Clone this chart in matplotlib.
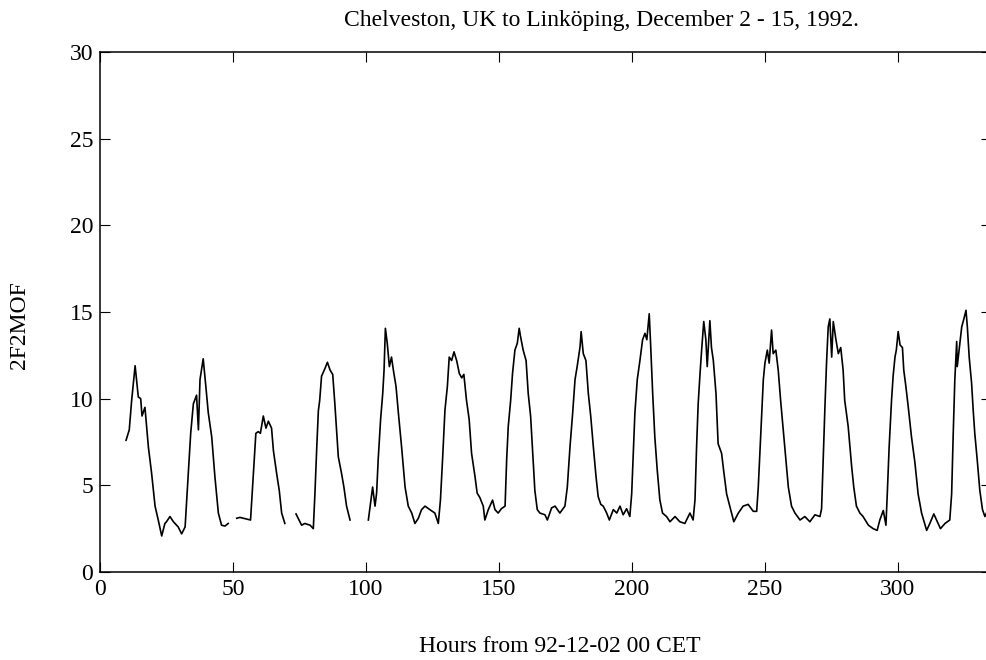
import matplotlib
matplotlib.use("Agg")
import matplotlib.pyplot as plt

# Segment 1
h1 = [9.8, 11.0, 11.9, 13.2, 14.4, 15.3, 15.8, 16.9, 18.2, 19.4, 20.7, 21.9, 23.2, 24.4, 25.0,
      26.3, 27.6, 29.4, 30.7, 32.0, 33.2, 34.1, 35.1, 36.3, 37.0, 37.6, 38.8, 39.8, 40.7, 42.0,
      43.2, 44.5, 45.7, 47.0, 48.2]
v1 = [7.6, 8.2, 9.9, 11.9, 10.1, 10.0, 9.0, 9.5, 7.2, 5.7, 3.8, 3.0, 2.08, 2.8, 2.9,
      3.2, 2.9, 2.6, 2.2, 2.6, 5.7, 8.0, 9.7, 10.2, 8.2, 11.1, 12.3, 10.7, 9.2, 7.8,
      5.5, 3.4, 2.7, 2.65, 2.8]

# Segment 2
h2 = [51.4, 52.6, 56.6, 57.6, 58.6, 59.5, 60.3, 61.4, 62.4, 63.3, 64.5, 65.2, 66.4, 67.4, 68.3, 69.5]
v2 = [3.1, 3.15, 3.0, 5.5, 8.0, 8.1, 8.0, 9.0, 8.3, 8.7, 8.3, 7.0, 5.7, 4.7, 3.4, 2.8]

# Segment 3
h3 = [73.7, 75.8, 77.0, 79.0, 80.2, 80.8, 81.5, 82.1, 82.6, 83.3, 84.6, 85.5, 86.5, 87.5, 88.3,
      89.6, 90.8, 91.7, 92.7, 94.0]
v3 = [3.35, 2.7, 2.8, 2.7, 2.5, 4.5, 7.2, 9.3, 9.9, 11.3, 11.75, 12.1, 11.65, 11.4, 9.7,
      6.65, 5.7, 4.9, 3.8, 3.0]

# Segment 4
h4 = [100.9, 101.4, 102.5, 103.4, 104.0, 104.6, 105.5, 106.3, 106.8, 107.3, 108.0, 108.8, 109.6,
      110.3, 111.3, 112.2, 113.4, 114.7, 115.9, 117.2, 118.4, 119.7, 120.9, 122.2, 124.0, 125.9,
      127.2, 128.0, 128.8, 129.7, 130.6, 131.3, 132.2, 133.1, 134.1, 135.1, 136.0, 136.8, 137.8,
      138.8, 139.7, 141.0, 141.8, 142.8, 144.1, 144.7, 146.0, 147.6, 148.5, 149.7, 150.9, 152.3,
      152.9, 153.5, 154.4, 155.1, 156.0, 156.9, 157.6, 158.1, 159.1, 160.2, 161.0, 161.9, 162.7,
      163.5, 164.4, 165.4, 167.3, 168.2, 169.8, 171.1, 172.9, 174.8, 175.7, 176.7, 177.7, 178.6,
      179.4, 180.5, 180.9, 181.7, 182.7, 183.6, 184.5, 185.5, 186.5, 187.3, 188.3, 189.2, 190.5,
      191.5, 193.0, 194.3, 195.5, 196.7, 198.0, 199.2, 199.9, 200.5, 201.1, 202.0, 203.0, 204.0,
      204.9, 205.6, 206.5, 207.0, 207.8, 208.6, 209.5, 210.5, 211.5, 213.0, 214.3, 216.2, 218.0,
      219.9, 221.8, 223.0, 223.7, 224.3, 224.9, 225.6, 226.2, 227.0, 227.8, 228.3, 229.3, 229.9,
      230.6, 231.6, 232.4, 233.7, 234.6, 235.6, 236.8, 238.3, 240.0, 241.8, 243.7, 245.6, 246.9,
      247.5, 248.1, 248.7, 249.4, 250.0, 250.9, 251.6, 252.5, 253.1, 254.1, 255.0, 255.9, 256.9,
      257.9, 258.8, 260.0, 261.3, 263.2, 265.0, 266.9, 268.8, 270.7, 271.3, 271.9, 272.6, 273.2,
      273.8, 274.4, 275.1, 275.7, 276.7, 277.6, 278.5, 279.4, 280.0, 281.3, 282.6, 283.4, 284.4,
      285.7, 286.9, 288.9, 290.7, 292.2, 293.2, 294.5, 295.5, 296.0, 296.7, 297.6, 298.2, 298.9,
      299.4, 300.1, 300.8, 301.7, 302.2, 303.0, 303.9, 305.1, 306.4, 307.6, 308.9, 310.8, 312.0,
      313.5, 314.8, 316.0, 317.7, 319.5, 320.2, 320.8, 321.4, 322.1, 322.3, 323.1, 324.0, 324.8,
      325.6, 326.1, 326.8, 327.7, 328.3, 328.9, 329.8, 330.8, 331.8, 332.7, 333.3]
v4 = [3.0, 3.6, 4.9, 3.8, 4.55, 6.5, 8.8, 10.3, 11.65, 14.06, 13.2, 11.85, 12.4,
      11.65, 10.7, 9.15, 7.2, 4.9, 3.8, 3.4, 2.8, 3.1, 3.6, 3.8, 3.6, 3.4,
      2.8, 4.15, 6.5, 9.35, 10.7, 12.4, 12.2, 12.7, 12.2, 11.45, 11.2, 11.4, 9.9,
      8.8, 6.85, 5.5, 4.55, 4.3, 3.8, 3.0, 3.6, 4.15, 3.6, 3.4, 3.65, 3.8,
      6.5, 8.4, 9.9, 11.45, 12.8, 13.2, 14.06, 13.6, 12.8, 12.2, 10.3, 9.0, 6.85,
      4.7, 3.6, 3.4, 3.3, 3.0, 3.7, 3.8, 3.4, 3.8, 4.9, 7.2, 9.15, 11.1,
      11.85, 13.0, 13.87, 12.6, 12.2, 10.3, 9.0, 7.2, 5.5, 4.35, 3.9, 3.8, 3.4,
      3.0, 3.6, 3.4, 3.8, 3.3, 3.65, 3.2, 4.5, 6.85, 9.15, 11.1, 12.2, 13.4,
      13.77, 13.4, 14.9, 13.2, 10.3, 7.8, 5.9, 4.15, 3.4, 3.2, 2.9, 3.2, 2.9,
      2.8, 3.4, 3.0, 4.15, 7.2, 9.7, 11.45, 12.8, 14.45, 13.4, 11.85, 14.5, 12.95,
      12.2, 10.3, 7.4, 6.85, 5.7, 4.5, 3.8, 2.9, 3.4, 3.8, 3.9, 3.5, 3.5,
      4.9, 6.85, 8.8, 11.1, 12.05, 12.8, 12.05, 13.96, 12.6, 12.8, 11.65, 9.9, 8.2,
      6.5, 4.9, 3.8, 3.4, 3.0, 3.2, 2.9, 3.3, 3.2, 3.65, 6.5, 9.7, 12.2,
      14.15, 14.6, 12.4, 14.45, 13.4, 12.6, 12.95, 11.65, 9.9, 8.4, 6.1, 4.9, 3.8,
      3.4, 3.2, 2.7, 2.5, 2.4, 3.0, 3.55, 2.7, 4.5, 7.2, 9.9, 11.3, 12.4,
      12.8, 13.87, 13.1, 12.95, 11.65, 10.7, 9.5, 7.8, 6.3, 4.5, 3.4, 2.4, 2.8,
      3.35, 2.9, 2.5, 2.8, 3.0, 4.5, 8.0, 11.1, 13.3, 11.85, 12.95, 14.15, 14.6,
      15.1, 14.15, 12.4, 10.9, 9.35, 8.0, 6.5, 4.7, 3.6, 3.2, 3.4]

title = "Chelveston, UK to Linköping, December 2 - 15, 1992."
xlabel = "Hours from 92-12-02 00 CET"
ylabel = "2F2MOF"
xticks = [0, 50, 100, 150, 200, 250, 300]
yticks = [0, 5, 10, 15, 20, 25, 30]

plt.rcParams['font.family'] = ['Liberation Serif', 'DejaVu Serif']

fig = plt.figure(figsize=(9.87, 6.6), dpi=100)
W, H = 987, 660
ax = fig.add_axes([100 / W, 88 / H, 891 / W, 520 / H])

for hh, vv in [(h1, v1), (h2, v2), (h3, v3), (h4, v4)]:
    ax.plot(hh, vv, color='black', linewidth=1.2)

ax.set_xlim(0, 335)
ax.set_ylim(0, 30)
ax.set_xticks(xticks)
ax.set_yticks(yticks)
ax.tick_params(direction='in', length=7, width=0.8, top=True, right=True,
               labelsize=17, pad=5)
for s in ax.spines.values():
    s.set_linewidth(1.1)

fig.text(601 / W, 1 - 26 / H, title, ha='center', va='baseline', fontsize=17)
fig.text(560 / W, 1 - 652 / H, xlabel, ha='center', va='baseline', fontsize=17)
fig.text(20 / W, 1 - 325 / H, ylabel, ha='center', va='center', rotation=90, fontsize=17)

fig.savefig("out.png", dpi=100)
